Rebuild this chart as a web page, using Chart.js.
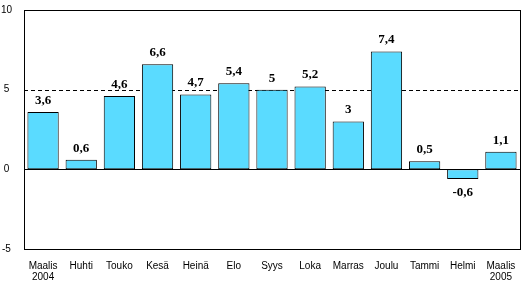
<!DOCTYPE html>
<html>
<head>
<meta charset="utf-8">
<script src="https://cdn.jsdelivr.net/npm/chart.js@4.4.1/dist/chart.umd.min.js"></script>
<style>
  html, body { margin: 0; padding: 0; background: #fff; }
  #wrap { width: 524px; height: 282px; }
</style>
</head>
<body>
<div id="wrap"><canvas id="myChart"></canvas></div>
<script>
// kuukaudet ja muutokset
const months = [['Maalis', '2004'], 'Huhti', 'Touko', 'Kesä', 'Heinä', 'Elo', 'Syys', 'Loka', 'Marras', 'Joulu', 'Tammi', 'Helmi', ['Maalis', '2005']];
const values = [3.6, 0.6, 4.6, 6.6, 4.7, 5.4, 5, 5.2, 3, 7.4, 0.5, -0.6, 1.1];
const yTicks = [-5, 0, 5, 10];

// viivat, arvot ja kehys
const extras = {
    id: 'extras',
    beforeDatasetsDraw(chart) {
        const { ctx, chartArea, scales } = chart;
        const y5 = Math.round(scales.y.getPixelForValue(5)) + 0.5;
        ctx.save();
        ctx.strokeStyle = '#000';
        ctx.lineWidth = 1;
        ctx.setLineDash([4, 3]);
        ctx.beginPath();
        ctx.moveTo(chartArea.left, y5);
        ctx.lineTo(chartArea.right, y5);
        ctx.stroke();
        ctx.restore();
    },
    afterDatasetsDraw(chart) {
        const { ctx, chartArea, scales } = chart;
        const y0 = Math.round(scales.y.getPixelForValue(0)) + 0.5;
        ctx.save();
        ctx.strokeStyle = '#000';
        ctx.lineWidth = 1;
        ctx.beginPath();
        ctx.moveTo(chartArea.left, y0);
        ctx.lineTo(chartArea.right, y0);
        ctx.stroke();
        ctx.strokeRect(Math.round(chartArea.left) + 0.5, Math.round(chartArea.top) + 0.5,
            Math.round(chartArea.right - chartArea.left), Math.round(chartArea.bottom - chartArea.top));

        // arvot pylväiden päälle
        ctx.fillStyle = '#000';
        ctx.font = 'bold 13px "Liberation Serif"';
        ctx.textAlign = 'center';
        const meta = chart.getDatasetMeta(0);
        meta.data.forEach((bar, i) => {
            const v = values[i];
            const txt = String(v).replace('.', ',');
            if (v >= 0) {
                ctx.textBaseline = 'bottom';
                ctx.fillText(txt, bar.x, bar.y - 5);
            } else {
                ctx.textBaseline = 'top';
                ctx.fillText(txt, bar.x, bar.y + 7);
            }
        });
        ctx.restore();
    }
};

const ctx = document.getElementById('myChart').getContext('2d');
new Chart(ctx, {
    type: 'bar',
    data: {
        labels: months,
        datasets: [{
            data: values,
            backgroundColor: '#5adbff',
            borderColor: '#000',
            borderWidth: 1,
            borderSkipped: false,
            barPercentage: 0.82,
            categoryPercentage: 1
        }]
    },
    options: {
        responsive: true,
        maintainAspectRatio: false,
        animation: false,
        layout: { padding: { top: 9, right: 4, left: 0, bottom: 0 } },
        plugins: {
            legend: { display: false },
            tooltip: { enabled: false }
        },
        scales: {
            x: {
                grid: { display: false },
                border: { display: false },
                ticks: {
                    color: '#000',
                    font: { family: '"Liberation Sans"', size: 10, lineHeight: 1.15 },
                    padding: 3,
                    maxRotation: 0,
                    autoSkip: false
                },
                afterFit(scale) { scale.height = 33; }
            },
            y: {
                min: -5,
                max: 10,
                afterBuildTicks(scale) { scale.ticks = yTicks.map(v => ({ value: v })); },
                grid: { display: false },
                border: { display: false },
                ticks: {
                    color: '#000',
                    font: { family: '"Liberation Sans"', size: 10 },
                    crossAlign: 'center',
                    padding: 4
                },
                afterFit(scale) { scale.width = 24; }
            }
        }
    },
    plugins: [extras]
});
</script>
</body>
</html>
